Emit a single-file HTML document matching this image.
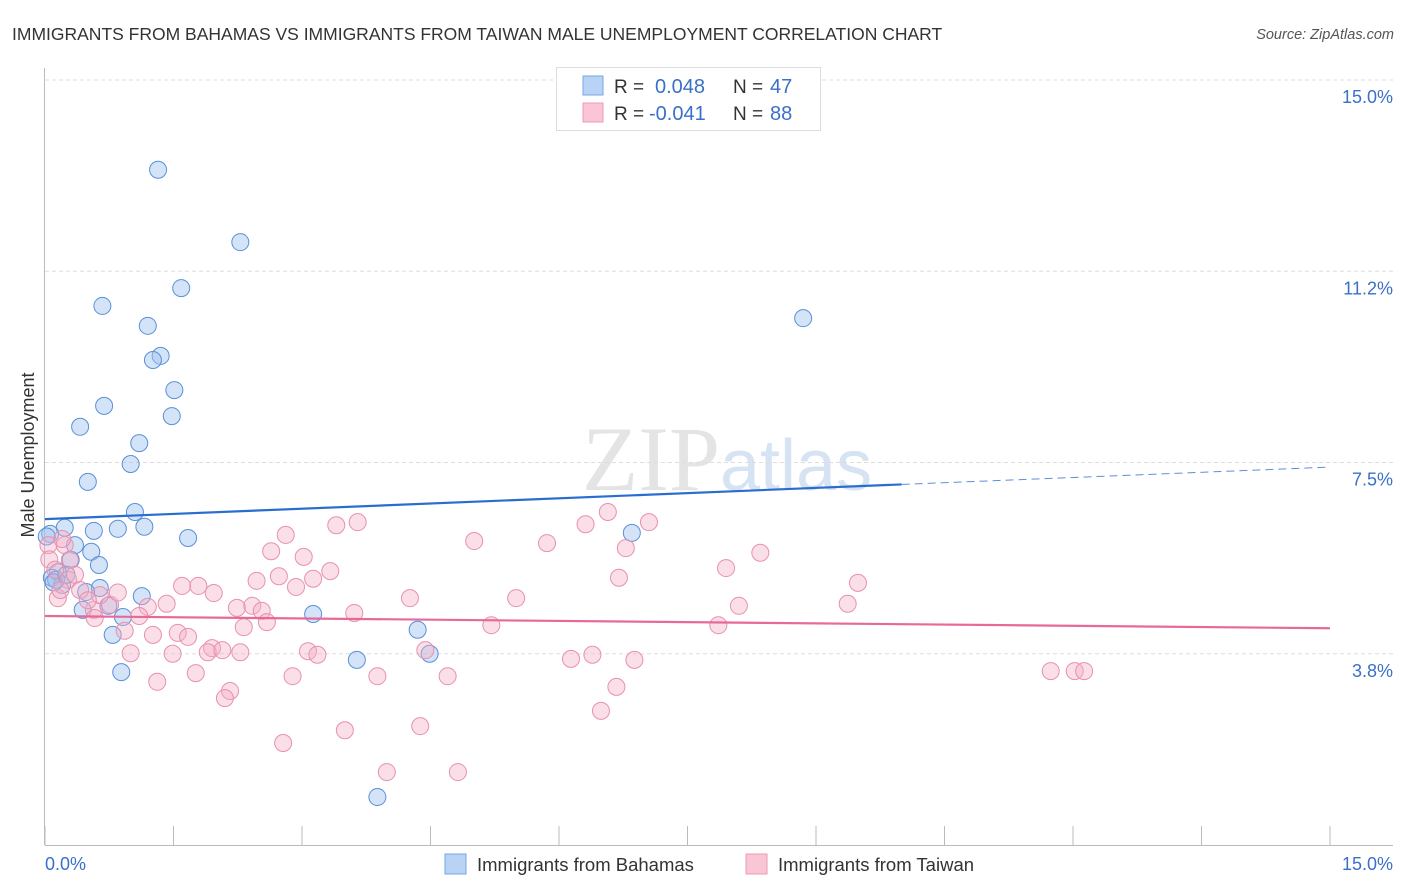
<!DOCTYPE html>
<html><head><meta charset="utf-8"><style>
body{margin:0;background:#fff;font-family:"Liberation Sans",sans-serif;}
svg{display:block}
</style></head><body>
<svg id="chart" width="1406" height="892" viewBox="0 0 1406 892">
<text x="12" y="40" font-size="17.5" fill="#333">IMMIGRANTS FROM BAHAMAS VS IMMIGRANTS FROM TAIWAN MALE UNEMPLOYMENT CORRELATION CHART</text>
<text x="1394" y="39" font-size="14.5" fill="#555" font-style="italic" text-anchor="end">Source: ZipAtlas.com</text>
<text x="720" y="490" font-size="92" fill="#e4e4e4" text-anchor="end" font-family="Liberation Serif,serif">ZIP</text>
<text x="720" y="490" font-size="72" fill="#d6e3f3">atlas</text>
<g id="grid"></g>
<g id="axes"></g>
<g id="pts"></g>
<g id="trend"></g>
<text transform="translate(34,455) rotate(-90)" font-size="18" fill="#333" text-anchor="middle">Male Unemployment</text>
<text x="45" y="870" font-size="18" fill="#3a70c8">0.0%</text>
<text x="1393" y="870" font-size="18" fill="#3a70c8" text-anchor="end">15.0%</text>
<g>
<rect x="556.5" y="67.5" width="264" height="63" fill="#fff" stroke="#ddd"/>
<rect x="583" y="76" width="20" height="19" fill="#b8d3f5" stroke="#7aa6e0"/>
<rect x="583" y="103" width="20" height="19" fill="#fac6d5" stroke="#eb9ab4"/>
<text x="614" y="93" font-size="19" fill="#333">R = </text><text x="655" y="93" font-size="20" fill="#3a70c8">0.048</text>
<text x="733" y="93" font-size="19" fill="#333">N = </text><text x="770" y="93" font-size="20" fill="#3a70c8">47</text>
<text x="614" y="120" font-size="19" fill="#333">R = </text><text x="649" y="120" font-size="20" fill="#3a70c8">-0.041</text>
<text x="733" y="120" font-size="19" fill="#333">N = </text><text x="770" y="120" font-size="20" fill="#3a70c8">88</text>
</g>
<g>
<rect x="445" y="854" width="21" height="20" fill="#b8d3f5" stroke="#7aa6e0"/>
<text x="477" y="871" font-size="18.5" fill="#333">Immigrants from Bahamas</text>
<rect x="746" y="854" width="21" height="20" fill="#fac6d5" stroke="#eb9ab4"/>
<text x="778" y="871" font-size="18.5" fill="#333">Immigrants from Taiwan</text>
</g>
</svg>
<script>
const yTicks=[15.0,11.25,7.5,3.75];
const yTickLabels=["15.0%","11.2%","7.5%","3.8%"];
const xTicks=[0,1.5,3,4.5,6,7.5,9,10.5,12,13.5,15];
const bahamasX=[1.32,2.28,1.59,0.67,1.20,1.35,1.26,1.51,0.69,1.48,0.41,1.10,1.00,0.50,1.05,0.23,0.57,0.85,1.16,0.06,1.67,0.35,0.54,0.30,0.63,0.15,0.08,0.20,0.64,0.48,1.13,0.74,0.44,0.91,3.13,0.79,4.35,0.89,3.64,4.49,3.88,6.85,8.85,0.13,0.02,0.10,0.25];
const bahamasY=[13.24,11.82,10.92,10.57,10.18,9.59,9.51,8.92,8.61,8.41,8.20,7.88,7.47,7.12,6.53,6.22,6.16,6.20,6.24,6.10,6.02,5.88,5.75,5.59,5.49,5.35,5.24,5.10,5.04,4.96,4.88,4.69,4.61,4.47,4.53,4.12,4.22,3.39,3.63,3.75,0.94,6.12,10.33,5.20,6.05,5.15,5.30];
const taiwanX=[6.57,7.05,6.31,3.65,3.40,2.81,5.01,5.86,6.78,8.35,2.64,3.02,3.33,7.95,2.73,3.13,2.47,6.70,9.49,1.60,1.79,2.93,1.97,4.26,5.50,8.10,9.37,1.42,2.24,2.42,2.53,3.61,1.20,1.10,0.76,0.57,0.58,2.59,2.32,5.21,7.86,0.93,1.26,1.55,1.67,1.95,1.90,2.07,2.28,1.49,1.00,3.07,3.18,4.44,6.14,6.39,6.88,1.76,2.89,3.88,4.70,1.31,2.16,2.10,6.67,6.49,11.74,12.02,12.13,3.50,4.38,2.78,3.99,4.82,0.15,0.04,0.27,0.23,0.41,0.64,0.18,0.29,0.05,0.35,0.12,0.50,0.85,0.20];
const taiwanY=[6.53,6.33,6.29,6.33,6.27,6.08,5.96,5.92,5.82,5.73,5.76,5.65,5.37,5.43,5.27,5.22,5.18,5.24,5.14,5.08,5.08,5.06,4.94,4.84,4.84,4.69,4.73,4.73,4.65,4.69,4.59,4.55,4.67,4.49,4.71,4.61,4.45,4.37,4.27,4.31,4.31,4.20,4.12,4.16,4.08,3.86,3.78,3.82,3.78,3.75,3.76,3.80,3.73,3.82,3.65,3.73,3.63,3.37,3.31,3.31,3.31,3.20,3.02,2.88,3.10,2.63,3.41,3.41,3.41,2.25,2.33,2.00,1.43,1.43,4.84,5.88,5.20,5.88,5.00,4.90,5.00,5.59,5.60,5.30,5.40,4.80,4.95,6.00];
const bahamasTrend=[6.39,7.41], taiwanTrend=[4.49,4.25];
const NS='http://www.w3.org/2000/svg';
const X=v=>45+v*(1285/15), Y=v=>845-v*51.0;
function mk(p,tag,a){const e=document.createElementNS(NS,tag);for(const k in a)e.setAttribute(k,a[k]);document.getElementById(p).appendChild(e);return e;}
yTicks.forEach((t,i)=>{
 const l=mk('grid','line',{x1:45,x2:1393,y1:Y(t),y2:Y(t),stroke:'#ddd','stroke-dasharray':'4,3'});
 
 
 const tx=mk('grid','text',{x:1393,y:Y(t)+23,'font-size':18,fill:'#3a70c8','text-anchor':'end'});
 tx.textContent=yTickLabels[i];
 
 
});
const ya=mk('axes','line',{x1:44.5,x2:44.5,y1:68,y2:845,stroke:'#bbb'});


const xa=mk('axes','line',{x1:45,x2:1393,y1:845.5,y2:845.5,stroke:'#bbb'});


xTicks.forEach(t=>{const e=mk('axes','line',{x1:X(t),x2:X(t),y1:826,y2:845,stroke:'#bbb'});
 
 });
bahamasX.forEach((v,i)=>{const c=mk('pts','circle',{cx:X(v),cy:Y(bahamasY[i]),r:8.5,fill:'rgba(160,195,240,0.45)',stroke:'#5b8fd8','stroke-width':1});
 
 });
taiwanX.forEach((v,i)=>{const c=mk('pts','circle',{cx:X(v),cy:Y(taiwanY[i]),r:8.5,fill:'rgba(245,175,198,0.4)',stroke:'#e890ae','stroke-width':1});
 
 });
const bAt=x=>bahamasTrend[0]+(bahamasTrend[1]-bahamasTrend[0])*x/15;
let l1=mk('trend','line',{x1:X(0),y1:Y(bAt(0)),x2:X(10),y2:Y(bAt(10)),stroke:'#2a6dd0','stroke-width':2.2});


let l2=mk('trend','line',{x1:X(10),y1:Y(bAt(10)),x2:X(15),y2:Y(bAt(15)),stroke:'#5b8fd8','stroke-width':1,'stroke-dasharray':'8,5'});


let l3=mk('trend','line',{x1:X(0),y1:Y(taiwanTrend[0]),x2:X(15),y2:Y(taiwanTrend[1]),stroke:'#e8689a','stroke-width':2.2});


</script>
</body></html>
